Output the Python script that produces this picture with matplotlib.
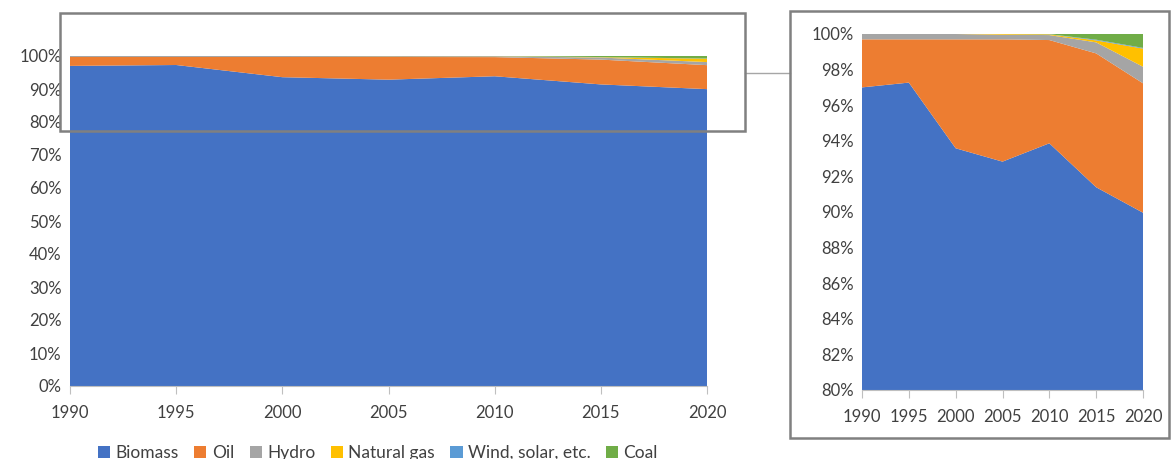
import matplotlib.pyplot as plt
from matplotlib.patches import Rectangle, Patch
from matplotlib.lines import Line2D
from matplotlib.ticker import PercentFormatter

plt.rcParams['font.family'] = ['Lato', 'DejaVu Sans']

years = [1990, 1995, 2000, 2005, 2010, 2015, 2020]
biomass = [97.00, 97.27, 93.58, 92.83, 93.86, 91.39, 89.96]
oil = [2.70, 2.43, 6.12, 6.87, 5.80, 7.52, 7.27]
hydro = [0.30, 0.30, 0.30, 0.26, 0.28, 0.62, 0.93]
natural_gas = [0.00, 0.00, 0.00, 0.04, 0.04, 0.11, 1.02]
wind_solar = [0.00, 0.00, 0.00, 0.00, 0.01, 0.04, 0.04]
coal = [0.00, 0.00, 0.00, 0.00, 0.01, 0.32, 0.78]

labels = ['Biomass', 'Oil', 'Hydro', 'Natural gas', 'Wind, solar, etc.', 'Coal']
colors = ['#4472C4', '#ED7D31', '#A5A5A5', '#FFC000', '#5B9BD5', '#70AD47']
series = [biomass, oil, hydro, natural_gas, wind_solar, coal]

text_col = '#404040'
W, H = 1172, 459
fig = plt.figure(figsize=(W / 100, H / 100), dpi=100)


def style(ax, ymin, ymax, step):
    ax.stackplot(years, series, colors=colors)
    ax.set_xlim(1990, 2020)
    ax.set_ylim(ymin, ymax)
    ax.set_xticks(years)
    ax.set_yticks(range(ymin, ymax + 1, step))
    ax.yaxis.set_major_formatter(PercentFormatter(decimals=0))
    for s in ['top', 'right', 'left']:
        ax.spines[s].set_visible(False)
    ax.spines['bottom'].set_color('#bfbfbf')
    ax.tick_params(axis='x', direction='out', length=6, color='#bfbfbf',
                   labelsize=12, labelcolor=text_col, pad=8)
    ax.tick_params(axis='y', length=0, labelsize=12, labelcolor=text_col, pad=6)
    ax.set_facecolor('none')


# main chart
ax = fig.add_axes([70 / W, 1 - 386 / H, 637 / W, 330 / H])
style(ax, 0, 100, 10)

# zoomed chart
ax2 = fig.add_axes([862 / W, 1 - 390 / H, 281 / W, 356 / H])
style(ax2, 80, 100, 2)

# highlight box, connector and inset frame
fig.patches.append(Rectangle((60 / W, 1 - 131 / H), 685 / W, 118 / H,
                             transform=fig.transFigure, fill=False,
                             edgecolor='#808080', linewidth=1.8, zorder=5))
fig.lines.append(Line2D([745 / W, 790 / W], [1 - 73 / H, 1 - 73 / H],
                        transform=fig.transFigure, color='#a6a6a6', linewidth=1))
fig.patches.append(Rectangle((790 / W, 1 - 438 / H), 379 / W, 427 / H,
                             transform=fig.transFigure, fill=False,
                             edgecolor='#808080', linewidth=1.8, zorder=5))

handles = [Patch(facecolor=c, label=l) for c, l in zip(colors, labels)]
fig.legend(handles=handles, loc='center', bbox_to_anchor=(378 / W, 1 - 453 / H),
           ncol=6, frameon=False, fontsize=12.5, labelcolor=text_col,
           handlelength=0.7, handleheight=0.7, handletextpad=0.3, columnspacing=0.9)

fig.savefig('out.png', dpi=100)
